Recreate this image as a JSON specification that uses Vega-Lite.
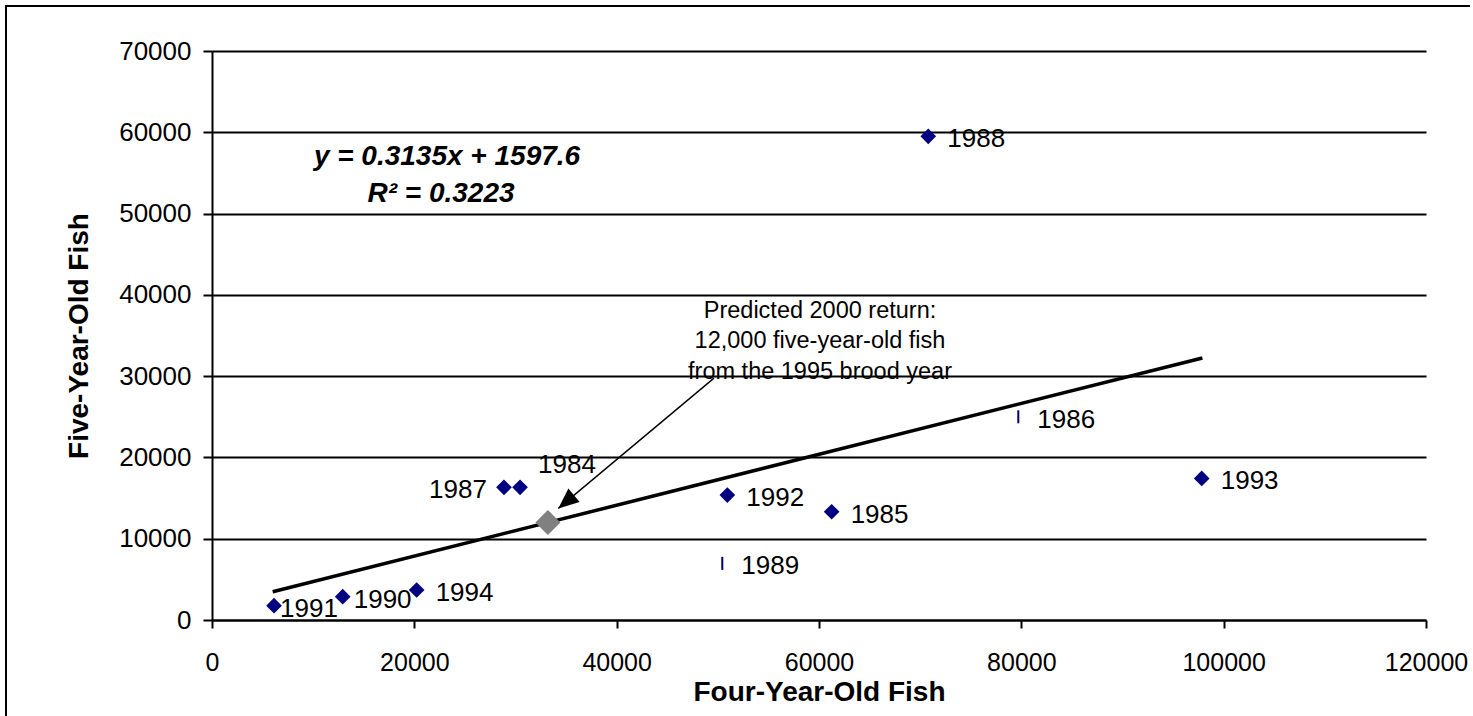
{
  "$schema": "https://vega.github.io/schema/vega-lite/v6.json",
  "width": 1214,
  "height": 569,
  "autosize": {"type": "none"},
  "padding": {"left": 212, "top": 51, "right": 47, "bottom": 96},
  "background": "white",
  "config": {"view": {"stroke": null}, "font": "Liberation Sans"},
  "datasets": {
    "fish": [
      {"year": 1984, "four": 30450, "five": 16320, "marker": "diamond"},
      {"year": 1985, "four": 61250, "five": 13320, "marker": "diamond"},
      {"year": 1986, "four": 79700, "five": 25000, "marker": "bar"},
      {"year": 1987, "four": 28860, "five": 16320, "marker": "diamond"},
      {"year": 1988, "four": 70800, "five": 59500, "marker": "diamond"},
      {"year": 1989, "four": 50440, "five": 6970, "marker": "bar"},
      {"year": 1990, "four": 12920, "five": 2870, "marker": "diamond"},
      {"year": 1991, "four": 6130, "five": 1760, "marker": "diamond"},
      {"year": 1992, "four": 50940, "five": 15370, "marker": "diamond"},
      {"year": 1993, "four": 97830, "five": 17420, "marker": "diamond"},
      {"year": 1994, "four": 20230, "five": 3690, "marker": "diamond"}
    ],
    "trend": [{"four": 6000, "five": 3480}, {"four": 97900, "five": 32240}],
    "forecast": [{"year": 1995, "four": 33200, "five": 12000}],
    "arrow": [{"end": "start", "four": 49620, "five": 29760}, {"end": "tip", "four": 34230, "five": 13730}]
  },
  "layer": [
    {
      "data": {"values": [{"note": "frame-left"}]},
      "mark": {"type": "rule", "color": "black", "strokeWidth": 2},
      "encoding": {
        "x": {"datum": -20362, "type": "quantitative", "scale": {"domain": [0, 120000], "nice": false, "zero": false}},
        "y": {"datum": 75536, "type": "quantitative", "scale": {"domain": [0, 70000], "nice": false, "zero": false}},
        "y2": {"datum": -11800}
      }
    },
    {
      "data": {"values": [{"note": "frame-top"}]},
      "mark": {"type": "rule", "color": "black", "strokeWidth": 2},
      "encoding": {
        "x": {"datum": -20460, "type": "quantitative", "scale": {"domain": [0, 120000], "nice": false, "zero": false}},
        "x2": {"datum": 124350},
        "y": {"datum": 75536, "type": "quantitative", "scale": {"domain": [0, 70000], "nice": false, "zero": false}}
      }
    },
    {
      "data": {"name": "trend"},
      "mark": {"type": "line", "color": "black", "strokeWidth": 3.5},
      "encoding": {
        "x": {"field": "four", "type": "quantitative", "scale": {"domain": [0, 120000], "nice": false, "zero": false}, "axis": {"title": "Four-Year-Old Fish"}},
        "y": {"field": "five", "type": "quantitative", "scale": {"domain": [0, 70000], "nice": false, "zero": false}, "axis": {"title": "Five-Year-Old Fish"}}
      }
    },
    {
      "data": {"name": "arrow"},
      "mark": {"type": "line", "color": "black", "strokeWidth": 1.4},
      "encoding": {
        "x": {"field": "four", "type": "quantitative", "scale": {"domain": [0, 120000], "nice": false, "zero": false}, "axis": {"title": "Four-Year-Old Fish"}},
        "y": {"field": "five", "type": "quantitative", "scale": {"domain": [0, 70000], "nice": false, "zero": false}, "axis": {"title": "Five-Year-Old Fish"}}
      }
    },
    {
      "data": {"name": "arrow"},
      "transform": [{"filter": "datum.end === 'tip'"}],
      "mark": {"type": "point", "shape": "M0,0L0.85,2L-0.85,2Z", "filled": true, "color": "black", "opacity": 1, "size": 420, "angle": 230},
      "encoding": {
        "x": {"field": "four", "type": "quantitative", "scale": {"domain": [0, 120000], "nice": false, "zero": false}, "axis": {"title": "Four-Year-Old Fish"}},
        "y": {"field": "five", "type": "quantitative", "scale": {"domain": [0, 70000], "nice": false, "zero": false}, "axis": {"title": "Five-Year-Old Fish"}}
      }
    },
    {
      "data": {"name": "fish"},
      "mark": {"type": "point", "filled": true, "color": "#000080", "opacity": 1, "size": 246},
      "encoding": {
        "x": {
          "field": "four", "type": "quantitative",
          "scale": {"domain": [0, 120000], "nice": false, "zero": false},
          "axis": {
            "title": "Four-Year-Old Fish",
            "values": [0, 20000, 40000, 60000, 80000, 100000, 120000],
            "format": "d", "grid": false,
            "domainColor": "black", "domainWidth": 2,
            "tickColor": "black", "tickWidth": 2, "tickSize": 8,
            "labelFont": "Liberation Sans", "labelFontSize": 25, "labelColor": "black",
            "labelPadding": 22, "labelFlush": false, "labelOverlap": false,
            "titleFont": "Liberation Sans", "titleFontSize": 28, "titleFontWeight": "bold",
            "titleColor": "black", "titlePadding": 3
          }
        },
        "y": {
          "field": "five", "type": "quantitative",
          "scale": {"domain": [0, 70000], "nice": false, "zero": false},
          "axis": {
            "title": "Five-Year-Old Fish",
            "values": [0, 10000, 20000, 30000, 40000, 50000, 60000, 70000],
            "format": "d", "grid": true, "gridColor": "black", "gridWidth": 2, "gridOpacity": 1,
            "domainColor": "black", "domainWidth": 2,
            "tickColor": "black", "tickWidth": 2, "tickSize": 9,
            "labelFont": "Liberation Sans", "labelFontSize": 26, "labelColor": "black",
            "labelPadding": 12, "labelOverlap": false,
            "titleFont": "Liberation Sans", "titleFontSize": 28, "titleFontWeight": "bold",
            "titleColor": "black", "titlePadding": 25
          }
        },
        "shape": {
          "field": "marker", "type": "nominal",
          "scale": {"domain": ["diamond", "bar"], "range": ["diamond", "M-0.13,-0.83L0.13,-0.83L0.13,0.83L-0.13,0.83Z"]},
          "legend": null
        }
      }
    },
    {
      "data": {"name": "forecast"},
      "mark": {"type": "point", "shape": "diamond", "filled": true, "color": "#808080", "opacity": 1, "size": 625},
      "encoding": {
        "x": {"field": "four", "type": "quantitative", "scale": {"domain": [0, 120000], "nice": false, "zero": false}, "axis": {"title": "Four-Year-Old Fish"}},
        "y": {"field": "five", "type": "quantitative", "scale": {"domain": [0, 70000], "nice": false, "zero": false}, "axis": {"title": "Five-Year-Old Fish"}}
      }
    },
    {
      "data": {"name": "fish"},
      "transform": [{"filter": "indexof([1985,1986,1988,1989,1992,1993,1994], datum.year) >= 0"}],
      "mark": {"type": "text", "align": "left", "baseline": "middle", "dx": 19, "dy": 3, "fontSize": 26, "font": "Liberation Sans", "color": "black"},
      "encoding": {
        "x": {"field": "four", "type": "quantitative", "scale": {"domain": [0, 120000], "nice": false, "zero": false}, "axis": {"title": "Four-Year-Old Fish"}},
        "y": {"field": "five", "type": "quantitative", "scale": {"domain": [0, 70000], "nice": false, "zero": false}, "axis": {"title": "Five-Year-Old Fish"}},
        "text": {"field": "year", "type": "nominal"}
      }
    },
    {
      "data": {"name": "fish"},
      "transform": [{"filter": "datum.year === 1990"}],
      "mark": {"type": "text", "align": "left", "baseline": "middle", "dx": 11, "dy": 3, "fontSize": 26, "font": "Liberation Sans", "color": "black"},
      "encoding": {
        "x": {"field": "four", "type": "quantitative", "scale": {"domain": [0, 120000], "nice": false, "zero": false}, "axis": {"title": "Four-Year-Old Fish"}},
        "y": {"field": "five", "type": "quantitative", "scale": {"domain": [0, 70000], "nice": false, "zero": false}, "axis": {"title": "Five-Year-Old Fish"}},
        "text": {"field": "year", "type": "nominal"}
      }
    },
    {
      "data": {"name": "fish"},
      "transform": [{"filter": "datum.year === 1991"}],
      "mark": {"type": "text", "align": "left", "baseline": "middle", "dx": 6, "dy": 3, "fontSize": 26, "font": "Liberation Sans", "color": "black"},
      "encoding": {
        "x": {"field": "four", "type": "quantitative", "scale": {"domain": [0, 120000], "nice": false, "zero": false}, "axis": {"title": "Four-Year-Old Fish"}},
        "y": {"field": "five", "type": "quantitative", "scale": {"domain": [0, 70000], "nice": false, "zero": false}, "axis": {"title": "Five-Year-Old Fish"}},
        "text": {"field": "year", "type": "nominal"}
      }
    },
    {
      "data": {"name": "fish"},
      "transform": [{"filter": "datum.year === 1987"}],
      "mark": {"type": "text", "align": "right", "baseline": "middle", "dx": -17, "dy": 3, "fontSize": 26, "font": "Liberation Sans", "color": "black"},
      "encoding": {
        "x": {"field": "four", "type": "quantitative", "scale": {"domain": [0, 120000], "nice": false, "zero": false}, "axis": {"title": "Four-Year-Old Fish"}},
        "y": {"field": "five", "type": "quantitative", "scale": {"domain": [0, 70000], "nice": false, "zero": false}, "axis": {"title": "Five-Year-Old Fish"}},
        "text": {"field": "year", "type": "nominal"}
      }
    },
    {
      "data": {"name": "fish"},
      "transform": [{"filter": "datum.year === 1984"}],
      "mark": {"type": "text", "align": "left", "baseline": "middle", "dx": 18, "dy": -22, "fontSize": 26, "font": "Liberation Sans", "color": "black"},
      "encoding": {
        "x": {"field": "four", "type": "quantitative", "scale": {"domain": [0, 120000], "nice": false, "zero": false}, "axis": {"title": "Four-Year-Old Fish"}},
        "y": {"field": "five", "type": "quantitative", "scale": {"domain": [0, 70000], "nice": false, "zero": false}, "axis": {"title": "Five-Year-Old Fish"}},
        "text": {"field": "year", "type": "nominal"}
      }
    },
    {
      "data": {"values": [{"note": "equation"}]},
      "mark": {"type": "text", "align": "center", "baseline": "middle", "fontSize": 28, "fontWeight": "bold", "fontStyle": "italic", "font": "Liberation Sans", "color": "black"},
      "encoding": {
        "x": {"datum": 23230, "type": "quantitative", "scale": {"domain": [0, 120000], "nice": false, "zero": false}},
        "y": {"datum": 56920, "type": "quantitative", "scale": {"domain": [0, 70000], "nice": false, "zero": false}},
        "text": {"value": "y = 0.3135x + 1597.6"}
      }
    },
    {
      "data": {"values": [{"note": "r2"}]},
      "mark": {"type": "text", "align": "center", "baseline": "middle", "fontSize": 28, "fontWeight": "bold", "fontStyle": "italic", "font": "Liberation Sans", "color": "black"},
      "encoding": {
        "x": {"datum": 22640, "type": "quantitative", "scale": {"domain": [0, 120000], "nice": false, "zero": false}},
        "y": {"datum": 52400, "type": "quantitative", "scale": {"domain": [0, 70000], "nice": false, "zero": false}},
        "text": {"value": "R² = 0.3223"}
      }
    },
    {
      "data": {"values": [{"note": "prediction"}]},
      "mark": {"type": "text", "align": "center", "baseline": "middle", "fontSize": 23.5, "lineHeight": 30.5, "lineBreak": "\n", "font": "Liberation Sans", "color": "black"},
      "encoding": {
        "x": {"datum": 60100, "type": "quantitative", "scale": {"domain": [0, 120000], "nice": false, "zero": false}},
        "y": {"datum": 38050, "type": "quantitative", "scale": {"domain": [0, 70000], "nice": false, "zero": false}},
        "text": {"value": "Predicted 2000 return:\n12,000 five-year-old fish\nfrom the 1995 brood year"}
      }
    }
  ]
}
